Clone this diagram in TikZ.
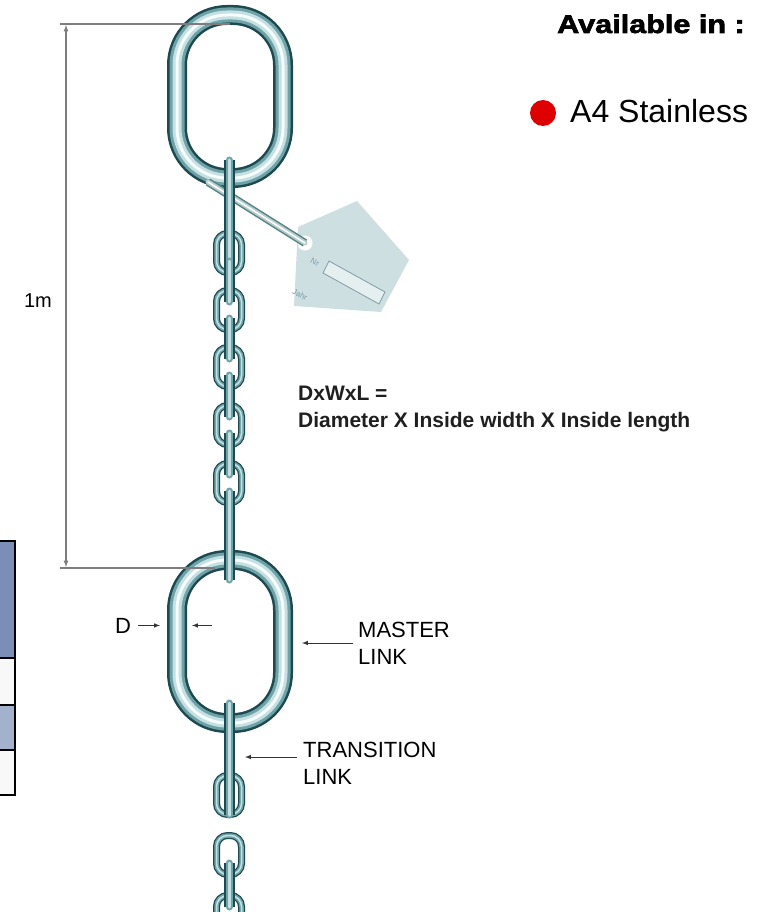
\documentclass[tikz,border=0pt]{standalone}
\usepackage{fontspec}
\setmainfont{Liberation Sans}
\newfontfamily\heavyfont{Liberation Sans Bold}[FakeBold=2.5,FakeStretch=1.2]
\definecolor{steeldark}{RGB}{28,74,80}
\definecolor{steelmid}{RGB}{110,162,166}
\definecolor{steellight}{RGB}{196,224,226}
\definecolor{steelshine}{RGB}{246,252,252}
\definecolor{tagblue}{RGB}{206,223,226}
\definecolor{tagline}{RGB}{125,158,166}
\definecolor{dimgray}{RGB}{125,125,125}
\definecolor{headblue}{RGB}{123,143,182}
\definecolor{rowblue}{RGB}{163,178,204}
\definecolor{rowwhite}{RGB}{248,248,248}
\definecolor{dotred}{RGB}{222,0,0}
\tikzset{
  bigring/.style={rounded corners=50pt, preaction={draw=steeldark,line width=20pt},
    preaction={draw=steelmid,line width=15pt}, draw=steellight, line width=9pt,
    postaction={draw=steelshine,line width=3pt}},
  facelink/.style={rounded corners=11pt, preaction={draw=steeldark,line width=7pt},
    draw=steelmid, line width=4.5pt, postaction={draw=steellight,line width=1.5pt}},
  edgebar/.style={line cap=round, preaction={draw=steeldark,line width=11pt},
    draw=steelmid, line width=7pt, postaction={draw=steellight,line width=3pt}},
  tagrod/.style={line cap=round, preaction={draw=steelmid!80!black,line width=8pt},
    draw=steellight!80!gray, line width=5pt, postaction={draw=white,line width=1.5pt}},
  dimline/.style={draw=dimgray, line width=1.2pt},
  callout/.style={draw=black!80, line width=1pt},
  labeltext/.style={inner sep=0pt, align=left, font=\fontsize{22}{27}\selectfont},
  tagtext/.style={rotate=-28, inner sep=0pt, text=tagline, font=\fontsize{8}{8}\selectfont},
  tableline/.style={draw=black, line width=1.5pt}
}
\begin{document}
\begin{tikzpicture}[x=1pt,y=-1pt,>=latex]
\useasboundingbox (0,0) rectangle (769,912);

% piece of the table at the left edge
\draw[tableline,fill=headblue] (-5,541) rectangle (15,658);
\draw[tableline,fill=rowwhite] (-5,658) rectangle (15,705);
\draw[tableline,fill=rowblue] (-5,705) rectangle (15,750);
\draw[tableline,fill=rowwhite] (-5,750) rectangle (15,795);

% tag
\fill[tagblue] (357,201) -- (409,260) -- (381,312) -- (294,306) -- (298,227) -- cycle;
\draw[tagline,fill=tagblue!50!white,line width=0.8pt] (329,261) -- (385,292) -- (379,304) -- (323,273) -- cycle;
\node[tagtext] (nr) at (315,262) {Nr};
\node[tagtext] (jahr) at (300,295) {Jahr};
\fill[white] (305,243) circle (7.5);

% rings
\draw[bigring] (177,15) rectangle (283,178);
\draw[bigring] (177,560) rectangle (283,723);

% tag rod
\coordinate (rodstart) at (208,182);
\coordinate (rodend) at (305,243);
\draw[tagrod] (rodstart) -- (rodend);

% chain above the master link
\draw[facelink] (216.5,233.5) rectangle (241.5,272.5);
\draw[facelink] (216.5,290.5) rectangle (241.5,329.5);
\draw[facelink] (216.5,347.5) rectangle (241.5,386.5);
\draw[facelink] (216.5,405.5) rectangle (241.5,444.5);
\draw[facelink] (216.5,463.5) rectangle (241.5,502.5);
\draw[edgebar] (229,160) -- (229,265);
\draw[edgebar] (229,261) -- (229,302);
\draw[edgebar] (229,318) -- (229,359);
\draw[edgebar] (229,375) -- (229,417);
\draw[edgebar] (229,433) -- (229,475);
\draw[edgebar] (229,491) -- (229,580);

% chain below the master link
\draw[facelink] (216.5,775.5) rectangle (241.5,814.5);
\draw[facelink] (216.5,835.5) rectangle (241.5,874.5);
\draw[facelink] (216.5,895.5) rectangle (241.5,934.5);
\draw[edgebar] (229,703) -- (229,815);
\draw[edgebar] (229,863) -- (229,907);
\draw[edgebar] (229,923) -- (229,960);

% 1m dimension
\coordinate (dimtop) at (66,25);
\coordinate (dimbot) at (66,567);
\draw[dimline] (60,24) -- (230,24);
\draw[dimline] (60,568) -- (215,568);
\draw[dimline,<->] (dimtop) -- (dimbot);
\node[anchor=base east,inner sep=0pt,font=\fontsize{20}{24}\selectfont] (onem) at (52,307) {1m};

% labels
\node[anchor=base west,inner sep=0pt,font=\heavyfont\fontsize{25.5}{30}\selectfont] (avail) at (557,33) {Available in :};
\node[circle,fill=dotred,minimum size=26pt,inner sep=0pt] (dot) at (543,113) {};
\node[anchor=base west,inner sep=0pt,font=\fontsize{32}{38}\selectfont] (stainless) at (570,123) {A4 Stainless};
\node[anchor=base west,inner sep=0pt,align=left,text=black!88,font=\bfseries\fontsize{21}{27}\selectfont] (dxwxl) at (298,427)
  {DxWxL =\\Diameter X Inside width X Inside length};

\node[labeltext,anchor=west] (master) at (358,643) {MASTER\\LINK};
\coordinate (mastertip) at (302,0);
\draw[callout,->] ([xshift=-5pt]master.west) -- (master.west -| mastertip);

\node[labeltext,anchor=west] (transition) at (303,763) {TRANSITION\\LINK};
\coordinate (transtip) at (245,0);
\draw[callout,->] ([shift={(-6pt,6pt)}]transition.west) -- ([yshift=6pt]transition.west -| transtip);

\node[labeltext,anchor=base west] (dlabel) at (115,633) {D};
\coordinate (douter) at (160,0);
\coordinate (dinner) at (192,0);
\coordinate (dinnerstart) at (212,0);
\draw[callout,->] ([xshift=7pt]dlabel.east) -- (dlabel.east -| douter);
\draw[callout,->] (dlabel.east -| dinnerstart) -- (dlabel.east -| dinner);

\end{tikzpicture}
\end{document}
